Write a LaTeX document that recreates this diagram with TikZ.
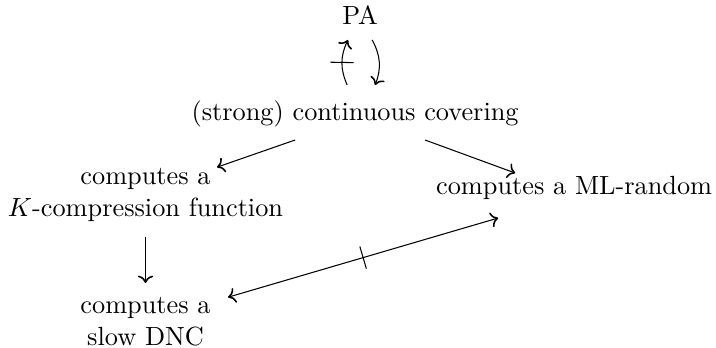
\documentclass[tikz,border=0pt]{standalone}
\usetikzlibrary{decorations.markings,arrows.meta}
\tikzset{
  >={Computer Modern Rightarrow[length=2.8pt,width=5.8pt,line width=0.6pt]},
  blocked/.style={postaction={decorate},
    decoration={markings, mark=at position 0.5 with {\draw[-] (0,-4.4pt) -- (0,4.4pt);}}},
}
\begin{document}
\begin{tikzpicture}[every node/.style={align=center, anchor=base}]
    \useasboundingbox (0,0) rectangle (9.57,-4.64);
    \node (pa) at (4.813,-0.334) {PA};
    \node (cov) at (4.746,-1.604) {(strong) continuous covering};
    \node (comp) at (1.945,-2.888) {computes a\\$K$-compression function};
    \node (ml) at (7.674,-2.594) {computes a ML-random};
    \node (dnc) at (1.945,-4.612) {computes a\\slow DNC};
    % the two arrows between PA and covering
    \draw[->, blocked] ([shift={(-3pt,13.3pt)}]cov.base) to[bend left=25] ([shift={(-4.6pt,-5.7pt)}]pa.base);
    \draw[->] ([shift={(4.6pt,-5.7pt)}]pa.base) to[bend left=25] ([shift={(7.6pt,13.3pt)}]cov.base);
    \draw[->] ([shift={(-22.8pt,-7.6pt)}]cov.base) -- ([shift={(27.2pt,18.6pt)}]comp.base);
    \draw[->] ([shift={(26.6pt,-7.6pt)}]cov.base) -- ([shift={(-22.4pt,8pt)}]ml.base);
    \draw[->] ([yshift=-8pt]comp.base) -- ([yshift=23.6pt]dnc.base);
    \draw[<->, blocked] ([shift={(31.4pt,18.2pt)}]dnc.base) -- ([shift={(-28.9pt,-9.1pt)}]ml.base);
\end{tikzpicture}
\end{document}
